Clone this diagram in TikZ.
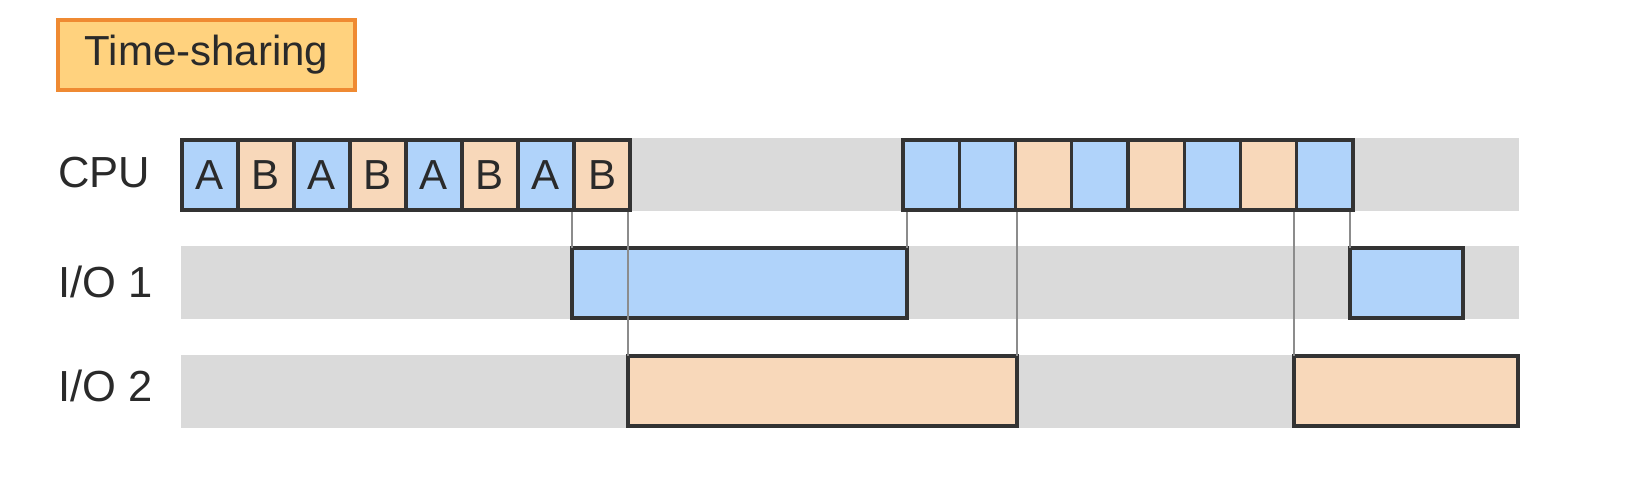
\documentclass[tikz,border=0pt]{standalone}
\usepackage{fontspec}
\setmainfont{Liberation Sans}
\begin{document}
\begin{tikzpicture}[x=1pt,y=-1pt,
  cell/.style={draw=boxline,line width=3.2pt,minimum height=70pt,inner sep=0pt,outer sep=0pt,text=textgray,font=\fontsize{42}{42}\selectfont},
  ablue/.style={cell,fill=cellblue},
  borange/.style={cell,fill=cellorange},
  link/.style={draw=linkgray,line width=2.4pt},
  rowlabel/.style={anchor=west,inner sep=0pt,text=textgray,font=\fontsize{43.5}{43.5}\selectfont},
  titlebox/.style={draw=titleborder,fill=titlefill,line width=3.5pt,minimum width=297pt,minimum height=70pt,inner sep=0pt,text=textgray,font=\fontsize{42}{42}\selectfont}
]
\definecolor{bandgray}{HTML}{DADADA}
\definecolor{boxline}{HTML}{333333}
\definecolor{cellblue}{HTML}{B0D3FA}
\definecolor{cellorange}{HTML}{F8D8BA}
\definecolor{linkgray}{HTML}{8C8C8C}
\definecolor{textgray}{HTML}{2A2A2A}
\definecolor{titlefill}{HTML}{FFD27E}
\definecolor{titleborder}{HTML}{EF8A32}
\useasboundingbox[fill=white] (0,0) rectangle (1652,493);

% title
\node[titlebox] (title) at (206.5,55) {Time-sharing};

% bands
\fill[bandgray] (181,138) rectangle (1519,211);
\fill[bandgray] (181,246) rectangle (1519,319);
\fill[bandgray] (181,355) rectangle (1519,428);

% row labels
\node[rowlabel] (lcpu) at (58,173) {CPU};
\node[rowlabel] (lio1) at (58,282) {I/O 1};
\node[rowlabel] (lio2) at (58,386) {I/O 2};

% reference points on the CPU row bottom
\coordinate (c8sw) at (573,210);
\coordinate (c8se) at (629,210);
\coordinate (d1sw) at (905,210);
\coordinate (d3sw) at (1016,210);
\coordinate (d8sw) at (1295,210);
\coordinate (d8se) at (1351,210);

% I/O boxes
\node[ablue,minimum width=335pt] (io1a) at (739.5,283) {};
\node[ablue,minimum width=113pt] (io1b) at (1406.5,283) {};
\node[borange,minimum width=389pt] (io2a) at (822.5,391) {};
\node[borange,minimum width=224pt] (io2b) at (1406,391) {};

% connector lines
\draw[link] (io1a.north west |- c8sw) -- (io1a.north west);
\draw[link] (io2a.north west |- c8se) -- (io2a.north west);
\draw[link] (io1a.north east |- d1sw) -- (io1a.north east);
\draw[link] (io2a.north east |- d3sw) -- (io2a.north east);
\draw[link] (io2b.north west |- d8sw) -- (io2b.north west);
\draw[link] (io1b.north west |- d8se) -- (io1b.north west);

% first CPU group
\foreach \i/\s/\t in {1/ablue/A,2/borange/B,3/ablue/A,4/borange/B,5/ablue/A,6/borange/B,7/ablue/A,8/borange/B}{
  \node[\s,minimum width=56pt] (c\i) at ({182+56*(\i-0.5)},175) {\t};
}
% second CPU group
\foreach \i/\s in {1/ablue,2/ablue,3/borange,4/ablue,5/borange,6/ablue,7/borange,8/ablue}{
  \node[\s,minimum width=56.25pt] (d\i) at ({903+56.25*(\i-0.5)},175) {};
}
\end{tikzpicture}
\end{document}
